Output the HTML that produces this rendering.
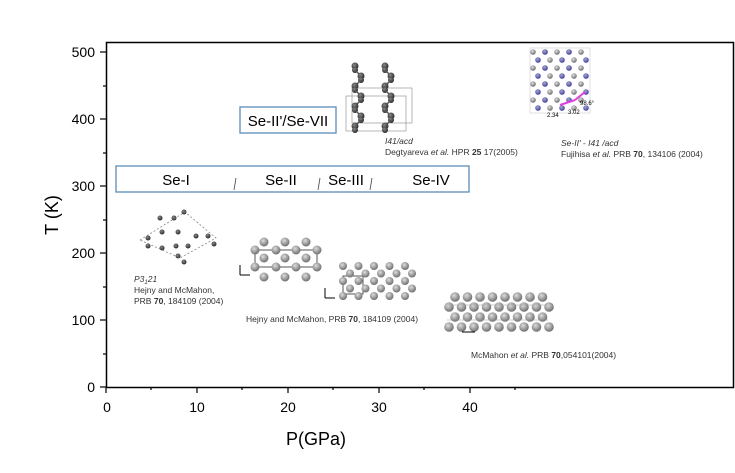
<!DOCTYPE html>
<html><head><meta charset="utf-8"><style>
body{margin:0;background:#fff;width:735px;height:468px;overflow:hidden;font-family:"Liberation Sans",sans-serif}
</style></head><body>
<svg id="s" width="735" height="468" xmlns="http://www.w3.org/2000/svg" font-family="Liberation Sans, sans-serif">
<defs><radialGradient id="g" cx="0.4" cy="0.35" r="0.7"><stop offset="0" stop-color="#ddd"/><stop offset="1" stop-color="#666"/></radialGradient>
<radialGradient id="d" cx="0.4" cy="0.35" r="0.7"><stop offset="0" stop-color="#888"/><stop offset="1" stop-color="#222"/></radialGradient>
<radialGradient id="b" cx="0.4" cy="0.35" r="0.7"><stop offset="0" stop-color="#aab"/><stop offset="1" stop-color="#33a"/></radialGradient></defs>
<rect x="106.5" y="42.5" width="627" height="345" fill="none" stroke="#000" stroke-width="1.5"/>
<g stroke="#000" stroke-width="1.2">
<line x1="106" y1="387" x2="106" y2="393"/><line x1="197" y1="387" x2="197" y2="393"/><line x1="288" y1="387" x2="288" y2="393"/><line x1="379" y1="387" x2="379" y2="393"/><line x1="470" y1="387" x2="470" y2="393"/>
<line x1="151" y1="387" x2="151" y2="390"/><line x1="242" y1="387" x2="242" y2="390"/><line x1="333" y1="387" x2="333" y2="390"/><line x1="424" y1="387" x2="424" y2="390"/><line x1="515" y1="387" x2="515" y2="390"/>
<line x1="100" y1="387" x2="106" y2="387"/><line x1="100" y1="320" x2="106" y2="320"/><line x1="100" y1="253" x2="106" y2="253"/><line x1="100" y1="186" x2="106" y2="186"/><line x1="100" y1="119" x2="106" y2="119"/><line x1="100" y1="52" x2="106" y2="52"/>
<line x1="103" y1="354" x2="106" y2="354"/><line x1="103" y1="287" x2="106" y2="287"/><line x1="103" y1="220" x2="106" y2="220"/><line x1="103" y1="153" x2="106" y2="153"/><line x1="103" y1="86" x2="106" y2="86"/>
</g>
<g font-size="14" text-anchor="end">
<text x="95" y="392">0</text><text x="95" y="325">100</text><text x="95" y="258">200</text><text x="95" y="191">300</text><text x="95" y="124">400</text><text x="95" y="57">500</text></g>
<g font-size="14" text-anchor="middle">
<text x="107" y="412">0</text><text x="197" y="412">10</text><text x="288" y="412">20</text><text x="379" y="412">30</text><text x="470" y="412">40</text></g>
<text x="316" y="445" font-size="18" text-anchor="middle">P(GPa)</text>
<text transform="translate(58,215) rotate(-90)" font-size="18" text-anchor="middle">T (K)</text>
<rect x="240" y="107" width="96" height="26" fill="#fff" stroke="#5b8db8" stroke-width="1.3"/>
<text x="288" y="126" font-size="15" text-anchor="middle">Se-II'/Se-VII</text>
<rect x="116" y="166" width="353" height="26" fill="#fff" stroke="#5b8db8" stroke-width="1.3"/>
<g font-size="15" text-anchor="middle"><text x="176" y="185">Se-I</text><text x="281" y="185">Se-II</text><text x="346" y="185">Se-III</text><text x="431" y="185">Se-IV</text></g>
<g stroke="#444" stroke-width="0.8"><line x1="236" y1="178" x2="234" y2="190"/><line x1="320" y1="178" x2="318" y2="190"/><line x1="372" y1="178" x2="370" y2="190"/></g>
<g font-size="8.5" fill="#333">
<text x="385" y="144" font-style="italic">I41/acd</text>
<text x="385" y="155">Degtyareva <tspan font-style="italic">et al.</tspan> HPR <tspan font-weight="bold">25</tspan> 17(2005)</text>
<text x="561" y="146" font-style="italic">Se-II' - I41 /acd</text>
<text x="561" y="157">Fujihisa <tspan font-style="italic">et al.</tspan> PRB <tspan font-weight="bold">70</tspan>, 134106 (2004)</text>
<text x="134" y="282" font-style="italic">P3<tspan font-size="6" dy="2">1</tspan><tspan dy="-2">21</tspan></text>
<text x="134" y="293">Hejny and McMahon,</text>
<text x="134" y="304">PRB <tspan font-weight="bold">70</tspan>, 184109 (2004)</text>
<text x="246" y="322">Hejny and McMahon, PRB <tspan font-weight="bold">70</tspan>, 184109 (2004)</text>
<text x="471" y="358">McMahon <tspan font-style="italic">et al.</tspan> PRB <tspan font-weight="bold">70</tspan>,054101(2004)</text>
</g>
<g id="art"></g>
</svg>
<script>
var a=document.getElementById('art'),h='';
function c(x,y,r,f){h+='<circle cx="'+x+'" cy="'+y+'" r="'+r+'" fill="url(#'+f+')"/>';}
function l(x1,y1,x2,y2,s,w){h+='<line x1="'+x1+'" y1="'+y1+'" x2="'+x2+'" y2="'+y2+'" stroke="'+s+'" stroke-width="'+(w||1)+'"/>';}
// I41/acd
h+='<rect x="346" y="96" width="60" height="35" fill="none" stroke="#999" stroke-width="0.7"/><rect x="352" y="88" width="60" height="35" fill="none" stroke="#999" stroke-width="0.7"/>';
[[355,0],[385,0]].forEach(function(p){var x=p[0];for(var i=0;i<7;i++){var y=66+i*10;var xx=x+(i%2?6:0);c(xx,y,3.5,'d');c(xx,y+4,3,'d');if(i<6)l(xx,y+4,x+((i+1)%2?6:0),y+10,'#555',1.5);}});
// Se-II' blue
h+='<rect x="530" y="48" width="60" height="65" fill="none" stroke="#ccc" stroke-width="0.6"/>';
for(var i=0;i<8;i++)for(var j=0;j<5;j++){c(533+j*12+(i%2)*5,52+i*8,2.8,(i+j)%2?'b':'g');}
l(560,105,575,100,'#e040e0',2);l(575,100,585,92,'#e040e0',2);
h+='<text x="547" y="117" font-size="6">2.34</text><text x="568" y="114" font-size="6">3.02</text><text x="580" y="105" font-size="6">98.6°</text>';
// P3121
[[148,238],[162,232],[178,232],[188,246],[196,236],[148,246],[162,248],[176,246],[208,236],[214,244],[160,218],[174,218],[184,212],[178,256],[184,262]].forEach(function(p){c(p[0],p[1],2.5,'d');});
h+='<polygon points="140,240 185,212 216,238 180,258" fill="none" stroke="#777" stroke-dasharray="2,2" stroke-width="0.7"/>';
// Se-II
h+='<rect x="255" y="250" width="62" height="17" fill="none" stroke="#555"/>';
[[242,264,285,306],[250,255,276,296,317],[258,264,285,306],[267,255,276,296,317],[277,264,285,306]].forEach(function(r){for(var k=1;k<r.length;k++)c(r[k],r[0],4.5,'g');});
l(240,275,240,265,'#000');l(240,275,250,275,'#000');
// Se-III
h+='<rect x="343" y="276" width="20" height="18" fill="none" stroke="#555"/>';
for(var i=0;i<5;i++)for(var j=0;j<5;j++)c(343+j*15.5+(i%2)*7,266+i*7.5,4,'g');
l(325,298,325,288,'#000');l(325,298,335,298,'#000');
// Se-IV
for(var i=0;i<4;i++)for(var j=0;j<(i%2?9:8);j++)c(455+j*12.5-(i%2?6:0),297+i*10,4.8,'g');
l(447,305,548,305,'#999',0.6);l(447,320,548,320,'#999',0.6);
l(462,332,475,332,'#000');
a.innerHTML=h;
</script>
</body></html>
